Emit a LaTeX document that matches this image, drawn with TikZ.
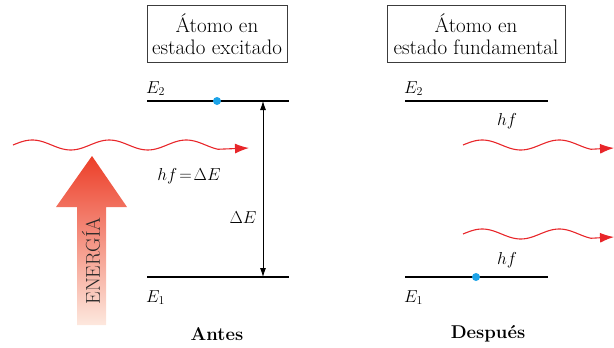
\documentclass[tikz,border=0pt]{standalone}
\usepackage{amsmath}
\usepackage{tikz}
\usetikzlibrary{arrows.meta, positioning}
\definecolor{photonred}{RGB}{232,38,42}
\definecolor{electronblue}{RGB}{28,163,232}
\definecolor{energytop}{RGB}{236,62,40}
\definecolor{energybot}{RGB}{253,232,222}
\definecolor{boxgray}{RGB}{60,60,60}
\tikzset{
    statebox/.style={rectangle, draw=boxgray, line width=0.9pt, minimum height=57pt, inner sep=2pt, align=center, font=\fontsize{21}{22.5}\selectfont},
    levelline/.style={line width=1.1pt, black},
    photon/.style={photonred, line width=1.1pt, -{Latex[length=14pt, width=10pt]}},
    gaparrow/.style={{Latex[length=9pt, width=6pt]}-{Latex[length=9pt, width=6pt]}, line width=0.8pt},
    electron/.style={circle, fill=electronblue, inner sep=0pt, minimum size=8pt},
    lvlabel/.style={inner sep=0pt, font=\fontsize{17}{20}\selectfont},
    stagelabel/.style={inner sep=0pt, font=\fontsize{18.5}{22}\selectfont\bfseries}
}

\begin{document}
\begin{tikzpicture}[x=1pt, y=-1pt]
\useasboundingbox (0,0) rectangle (614,348);

\node[statebox, minimum width=140pt] (exbox) at (217,34) {\'Atomo en\\estado excitado};
\node[statebox, minimum width=178pt] (gsbox) at (476,34) {\'Atomo en\\estado fundamental};

\coordinate (e2a) at (147,101);
\coordinate (e2b) at (289,101);
\coordinate (e1a) at (147,277);
\coordinate (e1b) at (289,277);
\coordinate (gapt) at (263,101);
\coordinate (gapb) at (263,277);
\draw[levelline] (e2a) -- (e2b);
\draw[levelline] (e1a) -- (e1b);
\draw[gaparrow] (gapt) -- (gapb);
\node[electron] (elexc) at (217,101) {};
\node[lvlabel, anchor=base west] (e2lab) at (146,93) {$E_2$};
\node[lvlabel, anchor=base west] (e1lab) at (146,302) {$E_1$};
\node[lvlabel] (gaplab) at (243,218) {$\Delta E$};
\node[lvlabel] (hflab) at (189,176) {$hf\!=\!\Delta E$};

\shade[top color=energytop, bottom color=energybot] (77,325) -- (77,207) -- (56,207) -- (92,156) -- (127,207) -- (106,207) -- (106,325) -- cycle;
\node[lvlabel, rotate=90, text=black!85, font=\fontsize{20}{22}\selectfont] (energy) at (91,261) {ENERG\'IA};

\coordinate (inend) at (249,148);
\draw[photon] plot[domain=0:205, samples=80, smooth] ({13+\x}, {145-5*sin(\x/77*360)}) -- (inend);

\coordinate (g2a) at (405,101);
\coordinate (g2b) at (548,101);
\coordinate (g1a) at (405,277);
\coordinate (g1b) at (548,277);
\draw[levelline] (g2a) -- (g2b);
\draw[levelline] (g1a) -- (g1b);
\node[electron] (elgs) at (476,277) {};
\node[lvlabel, anchor=base west] (g2lab) at (404,93) {$E_2$};
\node[lvlabel, anchor=base west] (g1lab) at (404,302) {$E_1$};
\node[lvlabel] (hfup) at (507,121) {$hf$};
\node[lvlabel] (hfdown) at (507,260) {$hf$};

\coordinate (outa) at (614,148);
\coordinate (outb) at (614,237);
\draw[photon] plot[domain=0:128, samples=60, smooth] ({463+\x}, {145-5*sin(\x/77*360)}) -- (outa);
\draw[photon] plot[domain=0:128, samples=60, smooth] ({463+\x}, {234-5*sin(\x/77*360)}) -- (outb);

\node[stagelabel] (before) at (217,334) {Antes};
\node[stagelabel] (after) at (488,334) {Despu\'es};
\end{tikzpicture}
\end{document}
